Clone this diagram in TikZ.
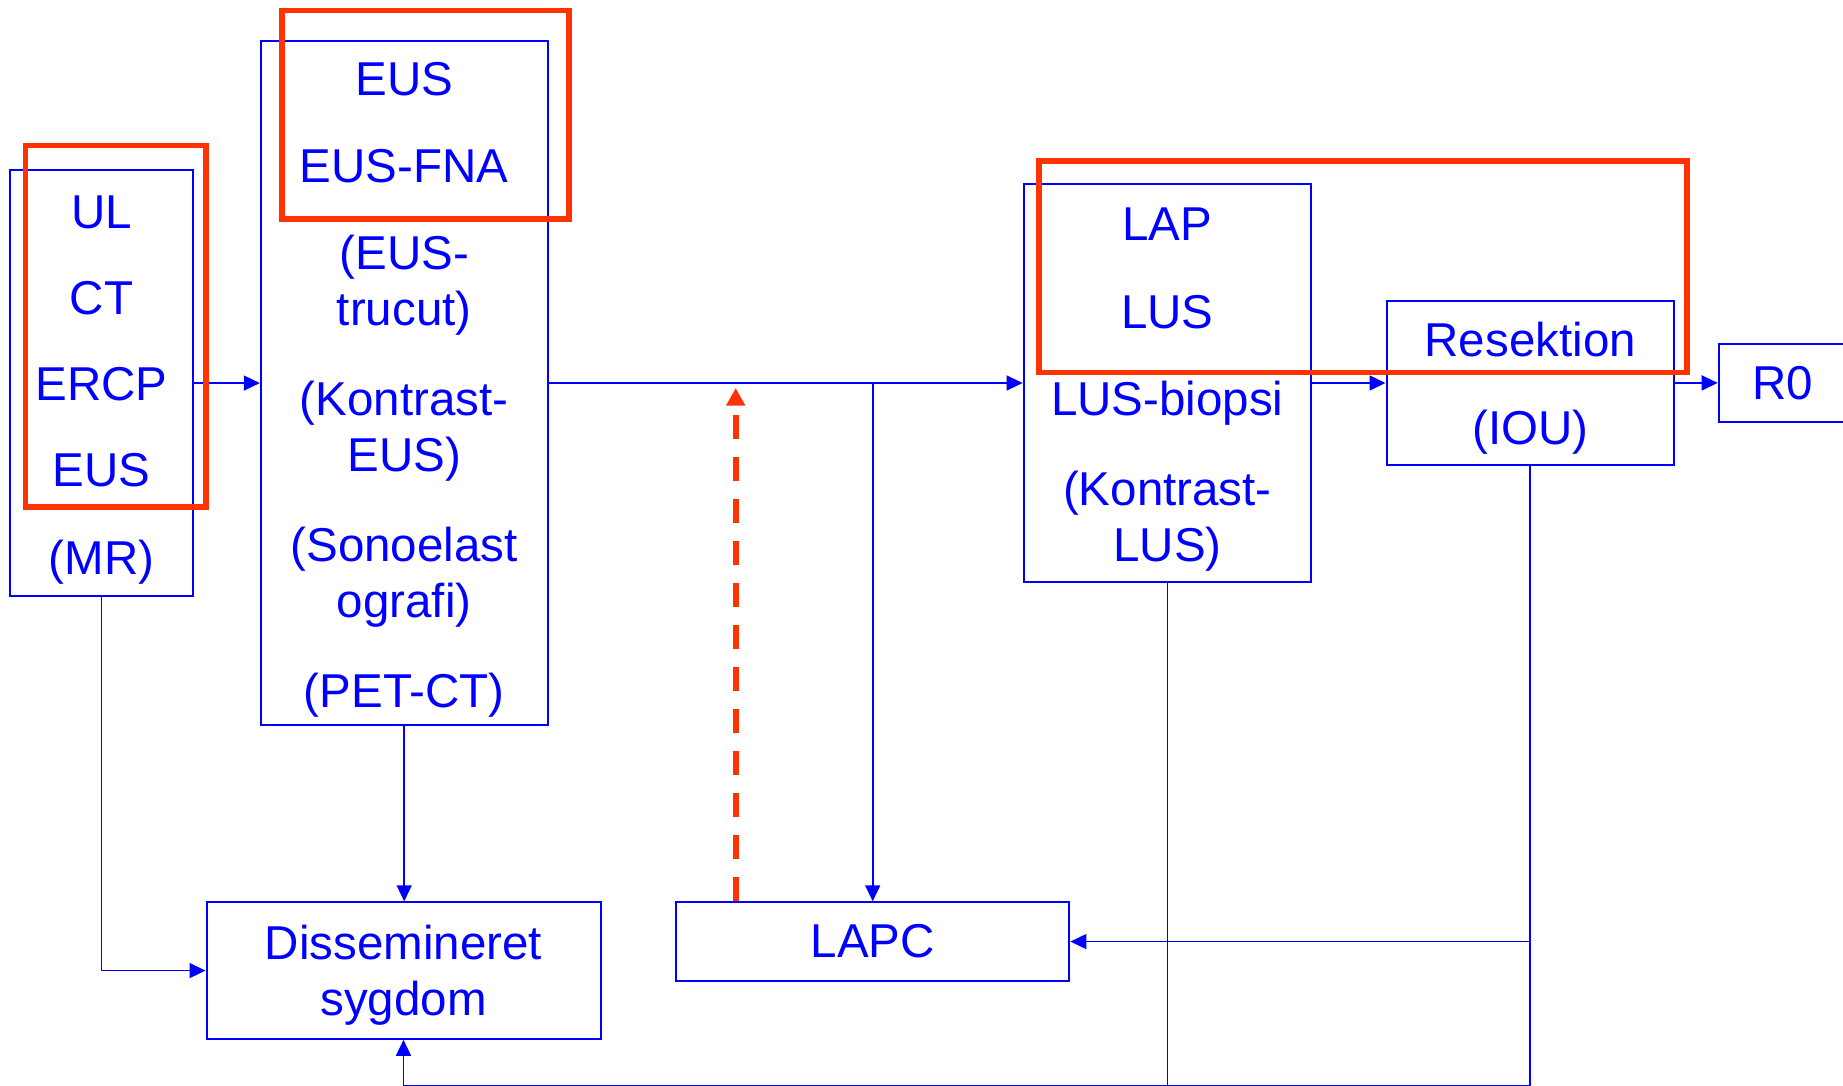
\documentclass[tikz,border=0pt]{standalone}
\usepackage{fontspec}
\setmainfont{Liberation Sans}
\usetikzlibrary{arrows.meta}
\definecolor{bl}{RGB}{0,0,255}
\definecolor{rd}{RGB}{255,51,0}
\newcommand{\topstrut}[1]{\rule{0pt}{#1}}
\begin{document}
\begin{tikzpicture}[x=1pt,y=-1pt,
  box/.style={draw=bl,line width=2pt,inner sep=0pt,anchor=north west,align=center,text=bl,
    font=\fontsize{47.5}{56}\selectfont},
  conn/.style={draw=bl,line width=1.6pt,-{Triangle[length=16pt,width=15pt]}},
  plain/.style={draw=bl,line width=1.6pt},
  redbox/.style={draw=rd,line width=5.7pt},
  reddash/.style={draw=rd,line width=6pt,dash pattern=on 24pt off 18pt,-{Triangle[length=17.5pt,width=18pt]}}]
\useasboundingbox (0,0) rectangle (1843,1085);
\fill[white] (0,0) rectangle (1843,1085);

\node[box,minimum width=182.2pt,minimum height=425.5pt] (A) at (9.4,169.3)
  {\topstrut{46pt}UL\\[30pt]CT\\[30pt]ERCP\\[30pt]EUS\\[32pt](MR)};
\node[box,minimum width=286.8pt,minimum height=684pt] (B) at (259.8,40)
  {\topstrut{46pt}EUS\\[31pt]EUS-FNA\\[31pt](EUS-\\trucut)\\[34pt](Kontrast-\\EUS)\\[34pt](Sonoelast\\ografi)\\[34pt](PET-CT)};
\node[box,minimum width=287.6pt,minimum height=397.4pt] (L) at (1022.6,183.3)
  {\topstrut{46pt}LAP\\[32pt]LUS\\[31pt]LUS-biopsi\\[34pt](Kontrast-\\LUS)};
\node[box,minimum width=287.5pt,minimum height=164.8pt] (RS) at (1385.5,299.5)
  {\topstrut{45pt}Resektion\\[32pt](IOU)};
\node[box,minimum width=128pt,minimum height=78pt] (R0) at (1717.7,342.7) {R0};
\node[box,minimum width=394pt,minimum height=136.5pt] (Dis) at (205.5,901.3)
  {\topstrut{44pt}Dissemineret\\sygdom};
\node[box,minimum width=393.4pt,minimum height=78.5pt] (LAPC) at (675,901.3) {LAPC};

\draw[conn] (A.east) -- (A.east -| B.west);
\draw[conn] (B.east) -- (B.east -| L.west);
\draw[conn] (L.east) -- (L.east -| RS.west);
\draw[conn] (RS.east) -- (RS.east -| R0.west);
\coordinate (j) at (LAPC.north |- B.east);
\draw[conn] (j) -- (LAPC.north);
\draw[conn] (A.south) |- (Dis.west);
\draw[conn] (B.south) -- (B.south |- Dis.north);
\coordinate (k) at (RS.south |- LAPC.east);
\draw[conn] (RS.south) -- (k) -- (LAPC.east);
\coordinate (bR) at (RS.south |- 0,1085.9);
\coordinate (bL) at (L.south |- 0,1085.9);
\coordinate (bD) at (Dis.south |- 0,1085.9);
\draw[plain] (k) -- (bR) -- (bL);
\draw[conn] (L.south) -- (bL) -- (bD) -- (Dis.south);

\coordinate (dtop) at (735.7,388);
\draw[reddash] (LAPC.north -| dtop) -- (dtop);

\draw[redbox] (25.5,145.5) rectangle (206,507);
\draw[redbox] (282,10.5) rectangle (569,218.7);
\draw[redbox] (1039,160.8) rectangle (1687,372.5);
\end{tikzpicture}
\end{document}
